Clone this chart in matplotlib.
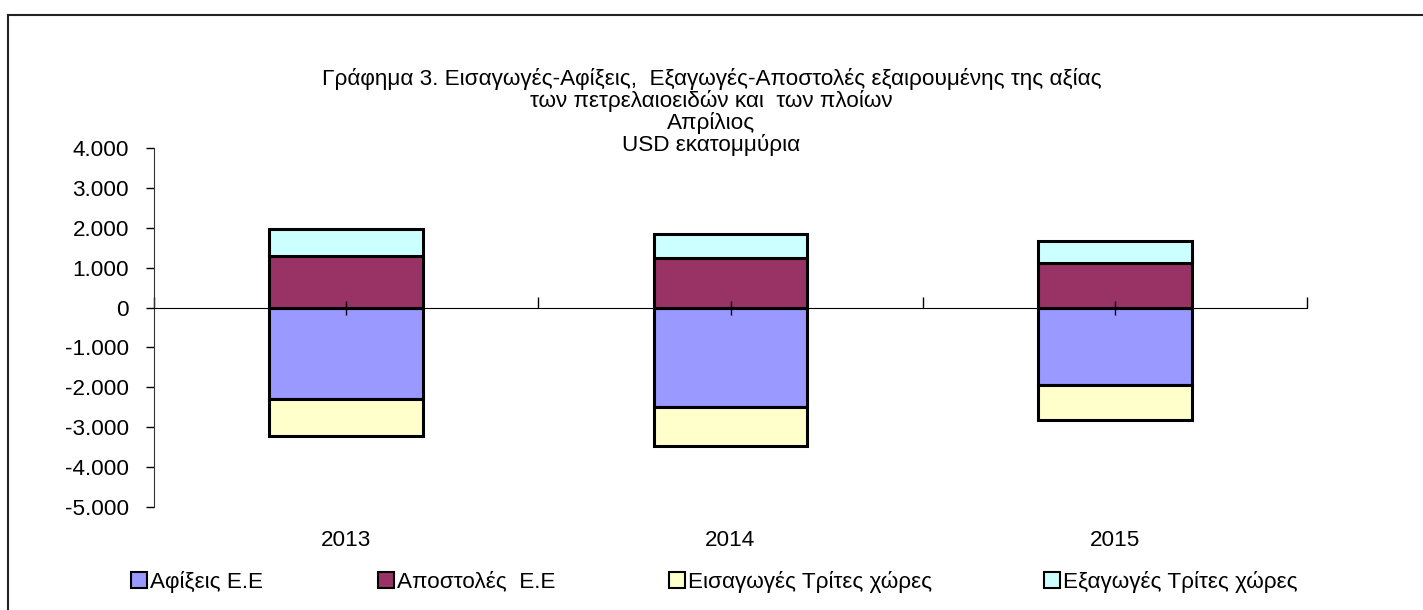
import matplotlib.pyplot as plt
from matplotlib.patches import Patch
from matplotlib.lines import Line2D
from matplotlib.ticker import FuncFormatter
import numpy as np

plt.rcParams['font.family'] = ['Liberation Sans', 'DejaVu Sans']

years = ['2013', '2014', '2015']
afixeis = [-2285, -2500, -1935]        # Αφίξεις Ε.Ε
apostoles = [1290, 1240, 1125]         # Αποστολές Ε.Ε
eisagoges = [-925, -980, -883]         # Εισαγωγές Τρίτες χώρες
exagoges = [667, 610, 550]             # Εξαγωγές Τρίτες χώρες

labels = ['Αφίξεις Ε.Ε', 'Αποστολές  Ε.Ε', 'Εισαγωγές Τρίτες χώρες', 'Εξαγωγές Τρίτες χώρες']
colors = ['#9999FF', '#993366', '#FFFFCC', '#CCFFFF']

title = ('Γράφημα 3. Εισαγωγές-Αφίξεις,  Εξαγωγές-Αποστολές εξαιρουμένης της αξίας\n'
         'των πετρελαιοειδών και  των πλοίων\nΑπρίλιος\nUSD εκατομμύρια')

FS = 16.2

fig = plt.figure(figsize=(14.23, 6.10), dpi=100)
W, H = 1423, 610
ax = fig.add_axes([154 / W, 1 - 507 / H, (1307 - 154) / W, (507 - 148) / H])

x = np.arange(len(years))
w = 0.4
kw = dict(width=w, edgecolor='black', linewidth=2.2)
ax.bar(x, afixeis, color=colors[0], **kw)
ax.bar(x, eisagoges, bottom=afixeis, color=colors[2], **kw)
ax.bar(x, apostoles, color=colors[1], **kw)
ax.bar(x, exagoges, bottom=apostoles, color=colors[3], **kw)

ax.set_xlim(-0.5, len(years) - 0.5)
ax.set_ylim(-5000, 4000)
ax.set_yticks(np.arange(-5000, 4001, 1000))
ax.yaxis.set_major_formatter(FuncFormatter(lambda v, p: f'{int(v):,}'.replace(',', '.')))
ax.tick_params(axis='y', labelsize=FS, length=6, width=1, direction='out', pad=12)

ax.spines['top'].set_visible(False)
ax.spines['right'].set_visible(False)
ax.spines['bottom'].set_position(('data', 0))
ax.spines['left'].set_color('#333333')

ax.set_xticks(np.arange(-0.5, len(years)), labels=[])
ax.set_xticks(x, minor=True)
ax.tick_params(axis='x', which='major', direction='in', length=8, width=1)
ax.tick_params(axis='x', which='minor', direction='inout', length=10, width=1, labelbottom=False)

for xi, yr in zip(x, years):
    ax.text(xi, -0.092, yr, transform=ax.get_xaxis_transform(),
            ha='center', va='center', fontsize=FS)

fig.text(0.5, 1 - 112 / H, title, ha='center', va='center', fontsize=FS, linespacing=1.0)

leg_x = [131, 378, 669, 1044]
for lx, lab, col in zip(leg_x, labels, colors):
    h = Patch(facecolor=col, edgecolor='black', linewidth=1.5)
    fig.legend([h], [lab], loc='center left', bbox_to_anchor=(lx / W, 1 - 582 / H),
               frameon=False, fontsize=FS, handlelength=0.7, handleheight=0.7,
               handletextpad=0.15, borderpad=0, borderaxespad=0)

fig.add_artist(Line2D([8 / W, 1], [1 - 14.5 / H] * 2, color='#222222', linewidth=1.5))
fig.add_artist(Line2D([8 / W] * 2, [0, 1 - 14.5 / H], color='#222222', linewidth=1.5))

fig.savefig('out.png', dpi=100)
